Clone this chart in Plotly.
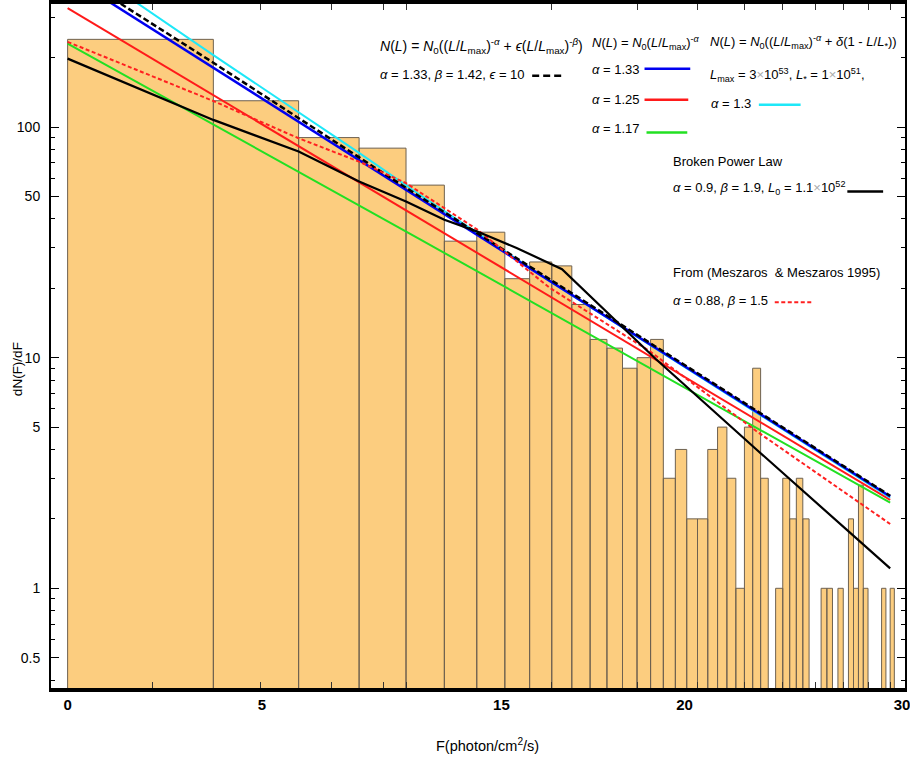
import plotly.graph_objects as go

# ---------------- data ----------------
# histogram bins: bin k spans axis position k .. k+1 (log-spaced axis)
bin_left = list(range(1, 51))
bin_height = [240, 130, 90, 81, 56, 32, 35, 22, 26, 25,
              17, 12, 11, 9, 10, 12, 3, 4, 2, 2,
              4, 5, 3, 1, 5, 9, 3, 0, 1, 3,
              2, 3, 2, 0, 0, 1, 1, 0, 1, 0,
              2, 1, 2.8, 1, 0, 0, 0, 1, 0, 1]

# model curves (axis position, dN/dF)
blue_x = [1, 50];            blue_y = [454, 2.5]
red_x = [1, 50];             red_y = [328, 2.42]
green_x = [1, 5.29, 50];     green_y = [230, 33.0, 2.35]
dashk_x = [1, 2, 5, 10, 50]; dashk_y = [480, 190, 54.5, 21.6, 2.52]
cyan_x = [1, 2, 4, 5.3, 10, 50]
cyan_y = [554, 205, 77.3, 51.4, 21.2, 2.47]
mesz_x = [1, 2, 3, 4, 5, 7.02, 9.9, 15.9, 26.4, 50]
mesz_y = [234, 129.7, 89.4, 70.8, 57.1, 35.9, 20.1, 10.7, 4.82, 1.90]
bpl_x = [1, 2, 3, 4, 5, 6, 7, 8.46, 10.5, 16.4, 26.4, 50]
bpl_y = [198, 107.4, 78.3, 58.1, 47.6, 39.6, 35.3, 29.9, 24.2, 9.87, 4.02, 1.22]

xtick_pos = [1, 2.52, 7.87, 18.8, 52.9]
xtick_text = ["0", "5", "15", "20", "30"]
xminor_pos = [1.5, 2.5, 3.5, 4.5, 5, 10, 15, 20, 25, 30, 35, 40, 45, 50]
ytick_pos = [0.5, 1, 5, 10, 50, 100]
ytick_text = ["0.5", "1", "5", "10", "50", "100"]
yminor_pos = [0.4, 0.6, 0.7, 0.8, 0.9, 2, 3, 4, 6, 7, 8, 9,
              20, 30, 40, 60, 70, 80, 90, 200, 300]

# ---------------- figure ----------------
W, H = 910, 757
L, R, T, B = 51, 0, 2, 69
PW, PH = W - L - R, H - T - B

def px(x):
    return (x - L) / PW

def py(y):
    return (H - B - y) / PH

FONT = "Liberation Sans, Arial, sans-serif"
TS = 13  # annotation text size

fig = go.Figure()

# bars as closed polygons
bx, by = [], []
for left, h in zip(bin_left, bin_height):
    if h <= 0:
        continue
    bx += [left, left, left + 1, left + 1, left, None]
    by += [0.1, h, h, 0.1, 0.1, None]
fig.add_trace(go.Scatter(x=bx, y=by, mode="lines", fill="toself",
                         fillcolor="#FCCD7F",
                         line=dict(color="#6E6150", width=1),
                         hoverinfo="skip", showlegend=False))

def curve(x, y, color, width=2, dash="solid"):
    fig.add_trace(go.Scatter(x=x, y=y, mode="lines",
                             line=dict(color=color, width=width, dash=dash),
                             hoverinfo="skip", showlegend=False))

curve(green_x, green_y, "#22E022")
curve(red_x, red_y, "#FF1A1A")
curve(cyan_x, cyan_y, "#1EE8F8")
curve(blue_x, blue_y, "#0000F0", 2.5)
curve(dashk_x, dashk_y, "#000000", 2.5, "6px,3px")
curve(mesz_x, mesz_y, "#FF2020", 2, "4px,2.5px")
curve(bpl_x, bpl_y, "#000000", 2.2)

fig.update_layout(
    width=W, height=H,
    margin=dict(l=L, r=R, t=T, b=B),
    paper_bgcolor="white", plot_bgcolor="white",
    font=dict(family=FONT, color="black"),
    showlegend=False,
)

fig.update_xaxes(
    type="log", range=[-0.0343, 1.7296],
    showline=True, linecolor="black", linewidth=3.5, mirror="ticks",
    ticks="inside", ticklen=0, tickcolor="black",
    tickvals=xtick_pos, ticktext=["<b>" + t + "</b>" for t in xtick_text],
    tickfont=dict(family=FONT, size=15, color="black"),
    ticklabeloverflow="allow",
    showgrid=False, zeroline=False,
    minor=dict(tickvals=xminor_pos, ticks="inside", ticklen=6,
               tickcolor="#333333", showgrid=False),
)
fig.update_yaxes(
    type="log", range=[-0.4323, 2.5335],
    showline=True, linecolor="black", linewidth=2, mirror="ticks",
    ticks="inside", ticklen=8, tickcolor="black",
    tickvals=ytick_pos, ticktext=ytick_text,
    tickfont=dict(family=FONT, size=14, color="black"),
    ticklabelstandoff=6,
    showgrid=False, zeroline=False,
    minor=dict(tickvals=yminor_pos, ticks="inside", ticklen=4,
               tickcolor="black", showgrid=False),
)

def txt(x, y, s, size=TS, anchor="left", angle=0):
    fig.add_annotation(xref="paper", yref="paper", x=px(x), y=py(y),
                       text=s, showarrow=False, xanchor=anchor,
                       yanchor="middle", textangle=angle,
                       font=dict(family=FONT, size=size, color="black"))

def sample(x0, x1, y, color, width=2.5, dash="solid"):
    fig.add_shape(type="line", xref="paper", yref="paper",
                  x0=px(x0), x1=px(x1), y0=py(y), y1=py(y),
                  line=dict(color=color, width=width, dash=dash))

I = lambda s: "<i>" + s + "</i>"
LM = I("L") + "/" + I("L") + "<sub>max</sub>"
TIMES = "<span style='color:#AAAAAA'>×</span>"

txt(380, 44, I("N") + "(" + I("L") + ") = " + I("N") + "<sub>0</sub>((" + LM +
    ")<sup>-" + I("α") + "</sup> + " + I("ϵ") + "(" + LM + ")<sup>-" + I("β") + "</sup>)",
    size=14)
txt(380, 73, I("α") + " = 1.33, " + I("β") + " = 1.42, " + I("ϵ") + " = 10")
sample(535, 568, 74, "black", 2.5, "7px,4px")

txt(593, 41, I("N") + "(" + I("L") + ") = " + I("N") + "<sub>0</sub>(" + LM +
    ")<sup>-" + I("α") + "</sup>")
txt(593, 68, I("α") + " = 1.33")
sample(648, 694, 67, "#0000F0")
txt(593, 98, I("α") + " = 1.25")
sample(648, 692, 98, "#FF1A1A")
txt(593, 127, I("α") + " = 1.17")
sample(650, 691, 131, "#22E022")

txt(712, 40, I("N") + "(" + I("L") + ") = " + I("N") + "<sub>0</sub>((" + LM +
    ")<sup>-" + I("α") + "</sup> + " + I("δ") + "(1 - " + I("L") + "/" + I("L") +
    "<sub>*</sub>))")
txt(712, 73, I("L") + "<sub>max</sub> = 3" + TIMES + "10<sup>53</sup>, " + I("L") +
    "<sub>*</sub> = 1" + TIMES + "10<sup>51</sup>,")
txt(713, 102, I("α") + " = 1.3")
sample(763, 805, 103, "#1EE8F8")

txt(675, 160, "Broken Power Law")
txt(675, 187, I("α") + " = 0.9, " + I("β") + " = 1.9, " + I("L") + "<sub>0</sub> = 1.1" +
    TIMES + "10<sup>52</sup>")
sample(852, 888, 190, "black", 2.5)

txt(675, 271, "From (Meszaros  & Meszaros 1995)")
txt(675, 299, I("α") + " = 0.88, " + I("β") + " = 1.5")
sample(779, 817, 301, "#FF2020", 2, "4px,2.5px")

txt(490, 745, "F(photon/cm<sup>2</sup>/s)", size=14.5, anchor="center")
txt(18, 368, "dN(F)/dF", size=13.5, anchor="center", angle=-90)

fig.write_html("out.html",
               config={"displayModeBar": False},
               post_script="document.body.style.margin='0px';"
                           "document.body.style.overflow='hidden';")
